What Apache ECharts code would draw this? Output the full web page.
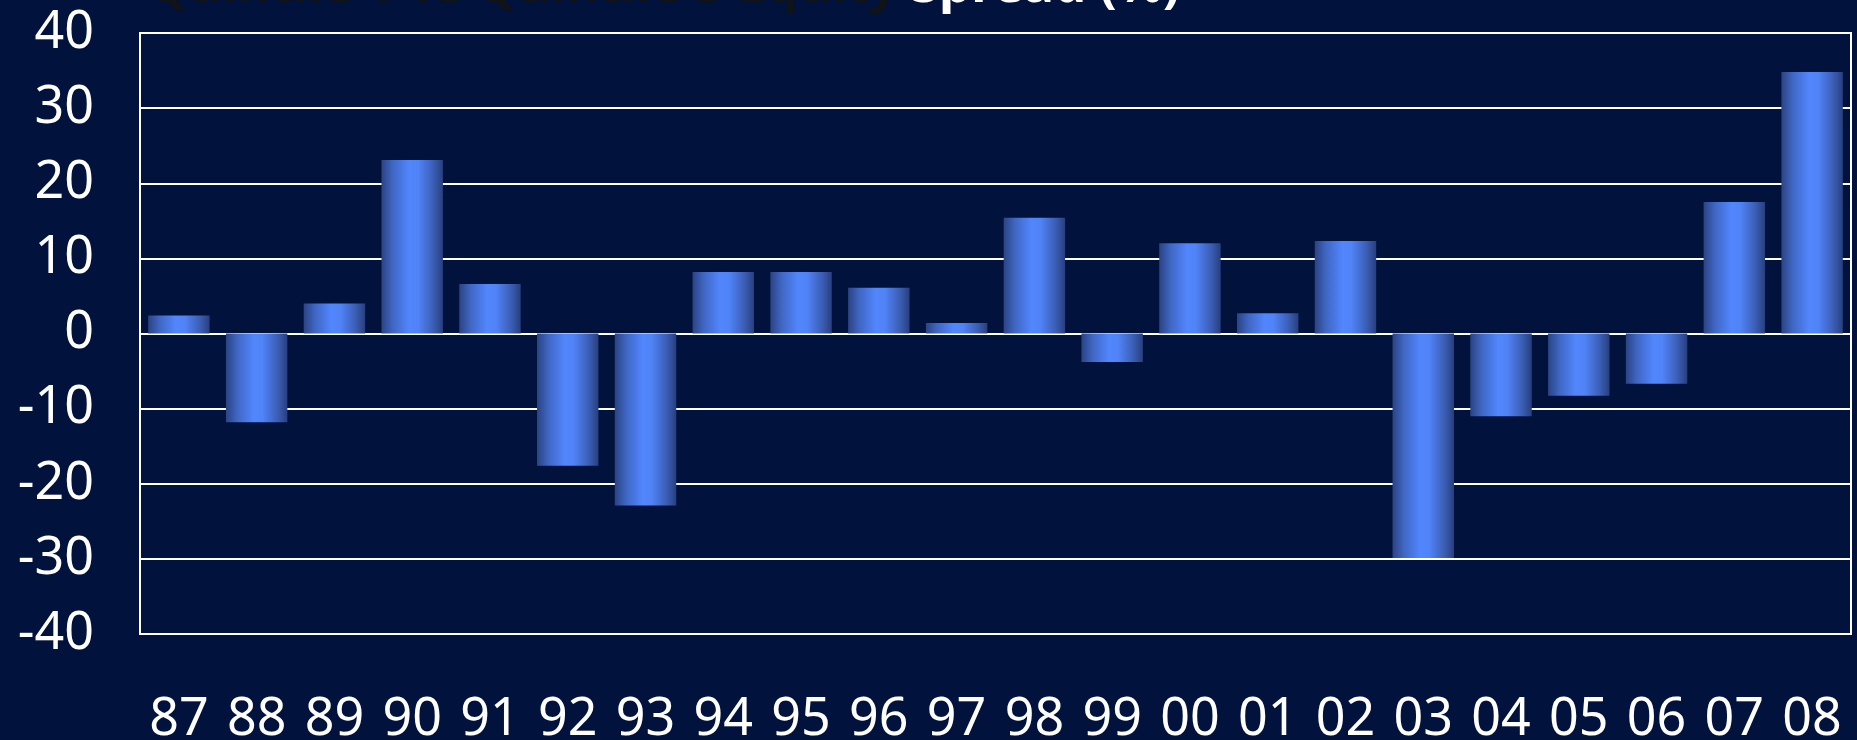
<!DOCTYPE html>
<html>
<head>
<meta charset="utf-8">
<script src="https://cdn.jsdelivr.net/npm/echarts@6/dist/echarts.min.js"></script>
<style>
html,body{margin:0;padding:0;background:#01123C;}
#chart{width:1857px;height:740px;}
</style>
</head>
<body>
<div id="chart"></div>
<script>
const categories = ['87','88','89','90','91','92','93','94','95','96','97','98','99','00','01','02','03','04','05','06','07','08'];
const spread = [2.4,-11.8,4.0,23.1,6.6,-17.6,-22.9,8.2,8.2,6.1,1.4,15.4,-3.8,12.0,2.7,12.3,-29.9,-11.0,-8.3,-6.7,17.5,34.8];
const yTicks = {min:-40, max:40, interval:10};
const titleDark = 'Quintile 1 vs Quintile 5 Equity ';
const titleLight = 'Spread (%)';

const chart = echarts.init(document.getElementById('chart'));
const barGrad = new echarts.graphic.LinearGradient(0,0,1,0,[
  {offset:0, color:'#2A4384'},
  {offset:0.18, color:'#3F66C2'},
  {offset:0.45, color:'#5286FD'},
  {offset:0.6, color:'#5083F6'},
  {offset:0.85, color:'#3A5DB2'},
  {offset:1, color:'#283F7D'}
]);
chart.setOption({
  backgroundColor:'#01123C',
  animation:false,
  title:{
    text:'{a|'+titleDark+'}{b|'+titleLight+'}',
    left:143, top:-43,
    textStyle:{
      rich:{
        a:{fontFamily:'Noto Sans', fontWeight:'bold', fontSize:51, color:'#101419', textShadowColor:'rgba(190,190,190,0.8)', textShadowOffsetX:2, textShadowOffsetY:2, textShadowBlur:0},
        b:{fontFamily:'Noto Sans', fontWeight:'bold', fontSize:51, color:'#ffffff', textShadowColor:'#000', textShadowOffsetX:2, textShadowOffsetY:2, textShadowBlur:0}
      }
    }
  },
  grid:{left:140, top:33, right:6, bottom:106, show:true, borderColor:'#ffffff', borderWidth:2, backgroundColor:'transparent', containLabel:false, outerBoundsMode:'none'},
  xAxis:{
    type:'category', data:categories,
    axisLine:{show:false}, axisTick:{show:false},
    axisLabel:{color:'#fff', fontFamily:'Noto Sans', fontSize:52, margin:60, interval:0}
  },
  yAxis:{
    type:'value', min:yTicks.min, max:yTicks.max, interval:yTicks.interval,
    axisLine:{show:false}, axisTick:{show:false},
    axisLabel:{color:'#fff', fontFamily:'Noto Sans', fontSize:52, margin:46},
    splitLine:{lineStyle:{color:'#ffffff', width:2}}
  },
  series:[{
    type:'bar', data:spread, barCategoryGap:'21%',
    itemStyle:{color:barGrad}
  }]
});
</script>
</body>
</html>
